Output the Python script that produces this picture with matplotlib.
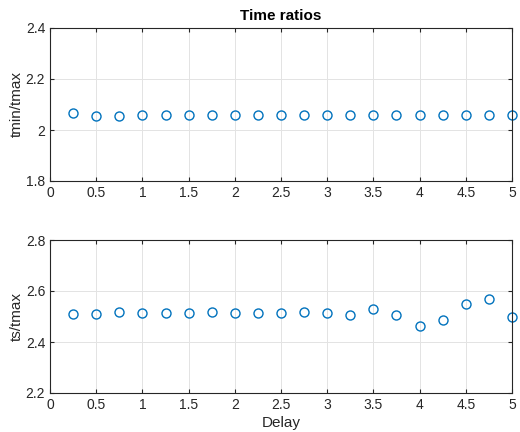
import matplotlib
matplotlib.use("Agg")
import matplotlib.pyplot as plt

# data
delay = [0.25, 0.5, 0.75, 1.0, 1.25, 1.5, 1.75, 2.0, 2.25, 2.5,
         2.75, 3.0, 3.25, 3.5, 3.75, 4.0, 4.25, 4.5, 4.75, 5.0]
tmin_tmax = [2.068, 2.055, 2.054, 2.059, 2.060, 2.057, 2.057, 2.059, 2.060, 2.057,
             2.057, 2.059, 2.057, 2.059, 2.059, 2.059, 2.057, 2.057, 2.059, 2.059]
ts_tmax = [2.510, 2.510, 2.517, 2.515, 2.515, 2.513, 2.517, 2.515, 2.515, 2.513,
           2.517, 2.512, 2.507, 2.528, 2.507, 2.464, 2.486, 2.550, 2.567, 2.498]

xticks = [0, 0.5, 1, 1.5, 2, 2.5, 3, 3.5, 4, 4.5, 5]
xticklabels = ["0", "0.5", "1", "1.5", "2", "2.5", "3", "3.5", "4", "4.5", "5"]

plt.rcParams['font.family'] = ['Liberation Sans', 'DejaVu Sans']
plt.rcParams['font.size'] = 10

fig = plt.figure(figsize=(5.2, 4.32), dpi=100)
W, H = 520, 432
ax1 = fig.add_axes([50 / W, 1 - 181 / H, 462 / W, 153 / H])
ax2 = fig.add_axes([50 / W, 1 - 393 / H, 462 / W, 153 / H])

def style(ax, ylim, yticks, ylabel):
    ax.set_xlim(0, 5)
    ax.set_ylim(*ylim)
    ax.set_xticks(xticks)
    ax.set_xticklabels(xticklabels)
    ax.set_yticks(yticks)
    ax.set_yticklabels(["%g" % v for v in yticks])
    ax.grid(True, color='#e3e3e3', linewidth=0.7)
    ax.set_axisbelow(True)
    for s in ax.spines.values():
        s.set_color('#262626')
        s.set_linewidth(0.8)
    ax.tick_params(direction='in', top=True, right=True, length=3,
                   colors='#262626', labelsize=10, width=0.8)
    ax.set_ylabel(ylabel, color='#262626', fontsize=11, labelpad=1)

ax1.plot(delay, tmin_tmax, 'o', mfc='none', mec='#0072BD', ms=6.5, mew=1.0, clip_on=False)
style(ax1, (1.8, 2.4), [1.8, 2.0, 2.2, 2.4], "tmin/tmax")
ax1.set_title("Time ratios", fontsize=11, fontweight='bold', pad=6)

ax2.plot(delay, ts_tmax, 'o', mfc='none', mec='#0072BD', ms=6.5, mew=1.0, clip_on=False)
style(ax2, (2.2, 2.8), [2.2, 2.4, 2.6, 2.8], "ts/tmax")
ax2.set_xlabel("Delay", color='#262626', fontsize=11, labelpad=3)

fig.savefig("out.png", dpi=100)
